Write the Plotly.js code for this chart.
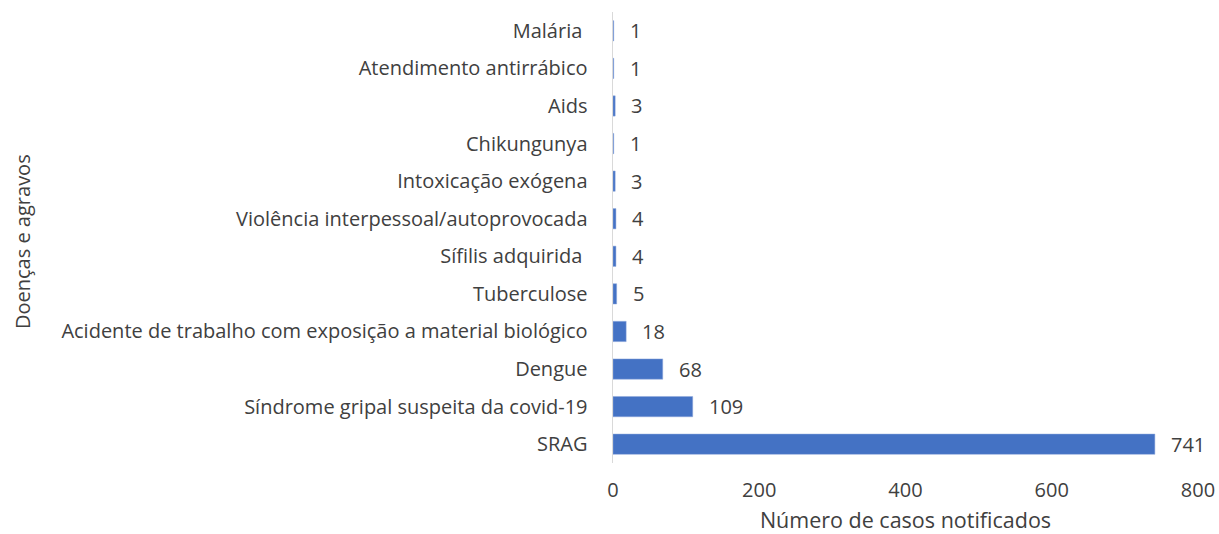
<!DOCTYPE html>
<html>
<head>
<meta charset="utf-8">
<script src="https://cdn.plot.ly/plotly-3.0.1.min.js"></script>
<style>html,body{margin:0;padding:0;background:#fff}#chart{width:1219px;height:534px}</style>
</head>
<body>
<div id="chart"></div>
<script>
const categories = ["Malária\u00a0","Atendimento antirrábico","Aids","Chikungunya","Intoxicação exógena","Violência interpessoal/autoprovocada","Sífilis adquirida\u00a0","Tuberculose","Acidente de trabalho com exposição a material biológico","Dengue","Síndrome gripal suspeita da covid-19","SRAG"];
const values = [1,1,3,1,3,4,4,5,18,68,109,741];
const xTicks = [0,200,400,600,800];

const font = "Open Sans, Noto Sans, sans-serif";
const txt = "#404040";

const annotations = categories.map((c,i)=>({
  x: values[i], y: c, xref:'x', yref:'y', text: String(values[i]),
  showarrow:false, xanchor:'left', xshift:14,
  font:{family:font, size:20, color:txt}
}));
annotations.push({
  xref:'paper', yref:'paper', x:(22-613)/585, y:0.49, xanchor:'center', yanchor:'middle',
  textangle:-90, showarrow:false, text:'Doenças e agravos',
  font:{family:font, size:20, color:txt}
});

Plotly.newPlot('chart',[{
  type:'bar', orientation:'h', x: values, y: categories,
  marker:{color:'#4472C4', line:{color:'#8fa9dc', width:0.5}},
  hoverinfo:'x+y'
}],{
  width:1219, height:534,
  margin:{l:613, r:21, t:12, b:71},
  paper_bgcolor:'#fff', plot_bgcolor:'#fff',
  bargap:0.46,
  showlegend:false,
  annotations: annotations,
  xaxis:{range:[0,800], tickvals:xTicks, ticktext:xTicks.map(String), showgrid:false, zeroline:false, showline:false,
    ticks:'outside', ticklen:9, tickcolor:'rgba(0,0,0,0)',
    tickfont:{family:font, size:20, color:txt},
    title:{text:'Número de casos notificados', font:{family:font, size:21.5, color:txt}, standoff:20}},
  yaxis:{autorange:'reversed', categoryorder:'array', categoryarray:categories, showgrid:false, zeroline:false,
    showline:true, linecolor:'#d9d9d9', linewidth:1.5,
    ticks:'outside', ticklen:20, tickcolor:'rgba(0,0,0,0)',
    tickfont:{family:font, size:20, color:txt}}
},{displayModeBar:false, staticPlot:true});
</script>
</body>
</html>
